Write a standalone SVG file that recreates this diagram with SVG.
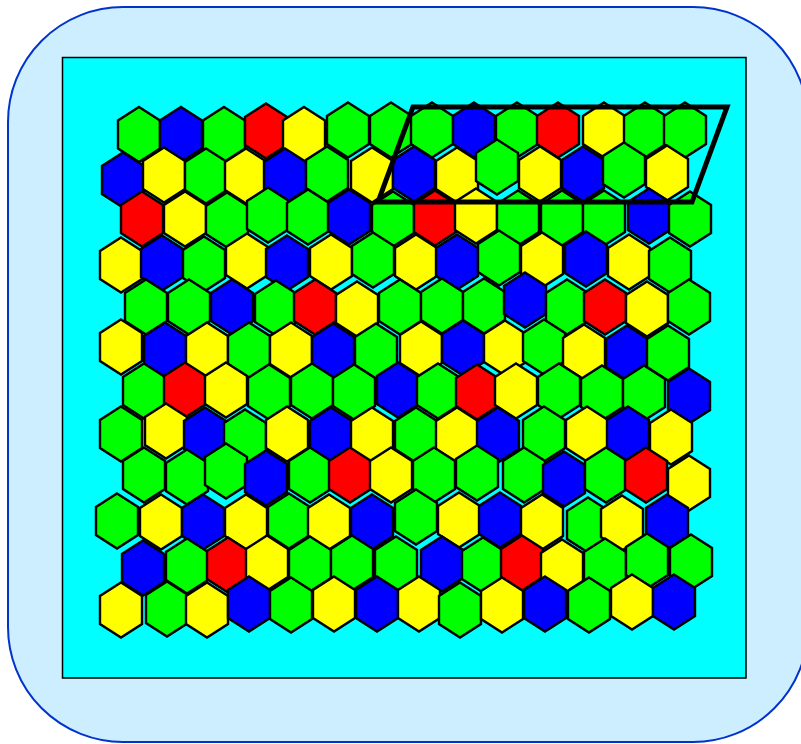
<svg xmlns="http://www.w3.org/2000/svg" width="801" height="744" viewBox="0 0 801 744">
<style>
.g{fill:#00ff00}.b{fill:#0000ff}.r{fill:#ff0000}.y{fill:#ffff00}
#h{stroke:#000;stroke-width:2.4;stroke-linejoin:miter}
</style>
<defs>
<polygon id="h" points="0,-27.5 21,-14 21,14 0,27.5 -21,14 -21,-14"/>
</defs>
<rect x="8" y="7" width="800" height="735" rx="115" ry="115" fill="#cceeff" stroke="#0033cc" stroke-width="2"/>
<rect x="62.5" y="57.5" width="683.5" height="620.5" fill="#00ffff" stroke="#000" stroke-width="1.5"/>
<g id="row1">
<use href="#h" x="139" y="134.5" class="g"/><use href="#h" x="181" y="134.5" class="b"/><use href="#h" x="224" y="134.5" class="g"/><use href="#h" x="266" y="131" class="r"/><use href="#h" x="304" y="134.5" class="y"/><use href="#h" x="348" y="130" class="g"/><use href="#h" x="391" y="130" class="g"/><use href="#h" x="432" y="130" class="g"/><use href="#h" x="474" y="130" class="b"/><use href="#h" x="517" y="130" class="g"/><use href="#h" x="558" y="130" class="r"/><use href="#h" x="604" y="130" class="y"/><use href="#h" x="645" y="130" class="g"/><use href="#h" x="685" y="130" class="g"/>
</g>
<g id="row2">
<use href="#h" x="123" y="180" class="b"/><use href="#h" x="164" y="175" class="y"/><use href="#h" x="206" y="176" class="g"/><use href="#h" x="246" y="176" class="y"/><use href="#h" x="285" y="176" class="b"/><use href="#h" x="327" y="174" class="g"/><use href="#h" x="372" y="175" class="y"/><use href="#h" x="414" y="174" class="b"/><use href="#h" x="457" y="175" class="y"/><use href="#h" x="497" y="167" class="g"/><use href="#h" x="540" y="174" class="y"/><use href="#h" x="583" y="174" class="b"/><use href="#h" x="624" y="170" class="g"/><use href="#h" x="667" y="173" class="y"/>
</g>
<g id="row3">
<use href="#h" x="142" y="219" class="r"/><use href="#h" x="185" y="219" class="y"/><use href="#h" x="227" y="220" class="g"/><use href="#h" x="268" y="215" class="g"/><use href="#h" x="308" y="217" class="g"/><use href="#h" x="349" y="217" class="b"/><use href="#h" x="393" y="219" class="g"/><use href="#h" x="435" y="218" class="r"/><use href="#h" x="476" y="216" class="y"/><use href="#h" x="518" y="218" class="g"/><use href="#h" x="562" y="218" class="g"/><use href="#h" x="604" y="218" class="g"/><use href="#h" x="649" y="216" class="b"/><use href="#h" x="690" y="219" class="g"/>
</g>
<g id="row4">
<use href="#h" x="121" y="265" class="y"/><use href="#h" x="162" y="263" class="b"/><use href="#h" x="204" y="264" class="g"/><use href="#h" x="247" y="261" class="y"/><use href="#h" x="287" y="263" class="b"/><use href="#h" x="331" y="262" class="y"/><use href="#h" x="373" y="260" class="g"/><use href="#h" x="416" y="262" class="y"/><use href="#h" x="457" y="262" class="b"/><use href="#h" x="499" y="258" class="g"/><use href="#h" x="542" y="260" class="y"/><use href="#h" x="586" y="259" class="b"/><use href="#h" x="629" y="262" class="y"/><use href="#h" x="670" y="265" class="g"/>
</g>
<g id="row5">
<use href="#h" x="146" y="307" class="g"/><use href="#h" x="189" y="307" class="g"/><use href="#h" x="232" y="307" class="b"/><use href="#h" x="276" y="308" class="g"/><use href="#h" x="315" y="307" class="r"/><use href="#h" x="357" y="309" class="y"/><use href="#h" x="400" y="307" class="g"/><use href="#h" x="442" y="306" class="g"/><use href="#h" x="484" y="306" class="g"/><use href="#h" x="525" y="300" class="b"/><use href="#h" x="567" y="307" class="g"/><use href="#h" x="605" y="307" class="r"/><use href="#h" x="647" y="309" class="y"/><use href="#h" x="689" y="307" class="g"/>
</g>
<g id="row6">
<use href="#h" x="121" y="347" class="y"/><use href="#h" x="165" y="350" class="b"/><use href="#h" x="207" y="350" class="y"/><use href="#h" x="249" y="350" class="g"/><use href="#h" x="291" y="350" class="y"/><use href="#h" x="333" y="351" class="b"/><use href="#h" x="376" y="351" class="g"/><use href="#h" x="421" y="349" class="y"/><use href="#h" x="463" y="348" class="b"/><use href="#h" x="505" y="348" class="y"/><use href="#h" x="544" y="347" class="g"/><use href="#h" x="584" y="352" class="y"/><use href="#h" x="627" y="353" class="b"/><use href="#h" x="668" y="353" class="g"/>
</g>
<g id="row7">
<use href="#h" x="144" y="391" class="g"/><use href="#h" x="185" y="390" class="r"/><use href="#h" x="226" y="390" class="y"/><use href="#h" x="269" y="392" class="g"/><use href="#h" x="312" y="391" class="g"/><use href="#h" x="354" y="392" class="g"/><use href="#h" x="398" y="390" class="b"/><use href="#h" x="438" y="391" class="g"/><use href="#h" x="477" y="392" class="r"/><use href="#h" x="516" y="391" class="y"/><use href="#h" x="559" y="391" class="g"/><use href="#h" x="602" y="393" class="g"/><use href="#h" x="644" y="393" class="g"/><use href="#h" x="689" y="396" class="b"/>
</g>
<g id="row8">
<use href="#h" x="121" y="434" class="g"/><use href="#h" x="166" y="431" class="y"/><use href="#h" x="205" y="435" class="b"/><use href="#h" x="245" y="437" class="g"/><use href="#h" x="287" y="434" class="y"/><use href="#h" x="331" y="435" class="b"/><use href="#h" x="372" y="435" class="y"/><use href="#h" x="416" y="435" class="g"/><use href="#h" x="457" y="435" class="y"/><use href="#h" x="498" y="435" class="b"/><use href="#h" x="544" y="434" class="g"/><use href="#h" x="587" y="434" class="y"/><use href="#h" x="628" y="434" class="b"/><use href="#h" x="671" y="437" class="y"/>
</g>
<g id="row9">
<use href="#h" x="144" y="475" class="g"/><use href="#h" x="187" y="477" class="g"/><use href="#h" x="226" y="471" class="g"/><use href="#h" x="266" y="478" class="b"/><use href="#h" x="310" y="475" class="g"/><use href="#h" x="350" y="475" class="r"/><use href="#h" x="391" y="475" class="y"/><use href="#h" x="434" y="475" class="g"/><use href="#h" x="477" y="473" class="g"/><use href="#h" x="524" y="475" class="g"/><use href="#h" x="564" y="479" class="b"/><use href="#h" x="606" y="475" class="g"/><use href="#h" x="646" y="475" class="r"/><use href="#h" x="689" y="483" class="y"/>
</g>
<g id="row10">
<use href="#h" x="117" y="521" class="g"/><use href="#h" x="161" y="522" class="y"/><use href="#h" x="203" y="522" class="b"/><use href="#h" x="246" y="522" class="y"/><use href="#h" x="289" y="521" class="g"/><use href="#h" x="329" y="522" class="y"/><use href="#h" x="372" y="522" class="b"/><use href="#h" x="416" y="517" class="g"/><use href="#h" x="459" y="520" class="y"/><use href="#h" x="500" y="520" class="b"/><use href="#h" x="542" y="522" class="y"/><use href="#h" x="588" y="525" class="g"/><use href="#h" x="622" y="523" class="y"/><use href="#h" x="667" y="522" class="b"/>
</g>
<g id="row11">
<use href="#h" x="143" y="568" class="b"/><use href="#h" x="187" y="566" class="g"/><use href="#h" x="228" y="565" class="r"/><use href="#h" x="267" y="563" class="y"/><use href="#h" x="310" y="564" class="g"/><use href="#h" x="352" y="563" class="g"/><use href="#h" x="396" y="564" class="g"/><use href="#h" x="442" y="564" class="b"/><use href="#h" x="483" y="565" class="g"/><use href="#h" x="522" y="563" class="r"/><use href="#h" x="562" y="567" class="y"/><use href="#h" x="605" y="566" class="g"/><use href="#h" x="647" y="561" class="g"/><use href="#h" x="691" y="562" class="g"/>
</g>
<g id="row12">
<use href="#h" x="121" y="610" class="y"/><use href="#h" x="167" y="609" class="g"/><use href="#h" x="207" y="610" class="y"/><use href="#h" x="249" y="604" class="b"/><use href="#h" x="291" y="605" class="g"/><use href="#h" x="334" y="604" class="y"/><use href="#h" x="377" y="604" class="b"/><use href="#h" x="419" y="604" class="y"/><use href="#h" x="460" y="610" class="g"/><use href="#h" x="502" y="605" class="y"/><use href="#h" x="545" y="604" class="b"/><use href="#h" x="589" y="605" class="g"/><use href="#h" x="632" y="602" class="y"/><use href="#h" x="674" y="602" class="b"/>
</g>
<polygon id="selection" points="413,107 727,107 692,202 378,202" fill="none" stroke="#000" stroke-width="5" stroke-linejoin="miter"/>
</svg>
